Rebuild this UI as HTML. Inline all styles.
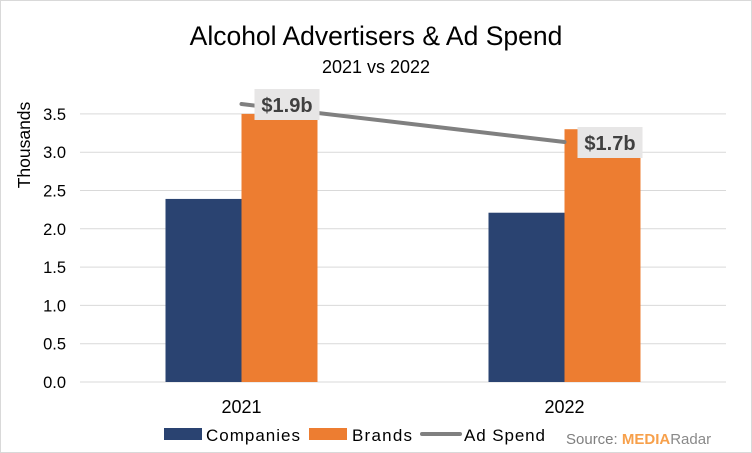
<!DOCTYPE html>
<html><head><meta charset="utf-8"><style>
body{margin:0;background:#fff}
svg{display:block;font-family:"Liberation Sans",Calibri,sans-serif}
</style></head><body>
<svg id="chart" width="752" height="453" viewBox="0 0 752 453">
<rect x="0.5" y="0.5" width="751" height="452" fill="#fff" stroke="#d9d9d9"/>
<text x="376" y="45" text-anchor="middle" font-size="26.5" fill="#000">Alcohol Advertisers &amp; Ad Spend</text>
<text x="376" y="73" text-anchor="middle" font-size="18" fill="#000">2021 vs 2022</text>
<text transform="translate(30,145) rotate(-90)" text-anchor="middle" font-size="17.5" fill="#000">Thousands</text>
<g id="grid"></g><g id="bars"></g><g id="line"></g><g id="xl"></g>
<g>
<rect x="164" y="428" width="38" height="12" fill="#2a4371"/>
<text x="206" y="441" font-size="17" textLength="94">Companies</text>
<rect x="309" y="428" width="38" height="12" fill="#ed7d31"/>
<text x="352" y="441" font-size="17" textLength="60">Brands</text>
<line x1="422" y1="434" x2="460" y2="434" stroke="#808080" stroke-width="4" stroke-linecap="round"/>
<text x="464" y="441" font-size="17" textLength="81">Ad Spend</text>
<text x="566" y="444" font-size="15" fill="#7f7f7f">Source: <tspan fill="#f7a04b" font-weight="bold">MEDIA</tspan><tspan fill="#8a8a8a">Radar</tspan></text>
</g>
</svg>
<script>
const categories=["2021","2022"];
const companies=[2.39,2.21];
const brands=[3.5,3.3];
const adSpend=[1.9,1.7];
const adLabels=["$1.9b","$1.7b"];
const yTicks=[0,0.5,1,1.5,2,2.5,3,3.5];
const NS="http://www.w3.org/2000/svg";
const y0=382,pxPer=76.6;
function yS(v){return y0-v*pxPer;}
function aS(v){return 104+(1.9-v)*190;}
const groupW=323,left=80;
function cx(i){return left+groupW*(i+0.5);}
function mk(t,a,p){const e=document.createElementNS(NS,t);for(const k in a)e.setAttribute(k,a[k]);p.appendChild(e);return e;}
const grid=document.getElementById('grid');
yTicks.forEach(v=>{
 const l=mk('line',{x1:left,x2:726,y1:yS(v),y2:yS(v),stroke:'#d9d9d9','stroke-width':1},grid);
 
 
 const t=mk('text',{x:66,y:yS(v)+6,'text-anchor':'end','font-size':16.5},grid);
 t.textContent=v.toFixed(1);
 
 
});
const bars=document.getElementById('bars'),xl=document.getElementById('xl');
categories.forEach((c,i)=>{
 const b1=mk('rect',{x:cx(i)-76,y:yS(companies[i]),width:76,height:y0-yS(companies[i]),fill:'#2a4371'},bars);
 
 
 const b2=mk('rect',{x:cx(i),y:yS(brands[i]),width:76,height:y0-yS(brands[i]),fill:'#ed7d31'},bars);
 
 
 const t=mk('text',{x:cx(i),y:413,'text-anchor':'middle','font-size':18},xl);
 t.textContent=c;
 
 
});
const lg=document.getElementById('line');
const pts=categories.map((c,i)=>cx(i)+','+aS(adSpend[i])).join(' ');
const pl=mk('polyline',{points:pts,fill:'none',stroke:'#808080','stroke-width':4,'stroke-linecap':'round'},lg);


categories.forEach((c,i)=>{
 const x=cx(i)+13,y=aS(adSpend[i])-15;
 const r=mk('rect',{x:x,y:y,width:65,height:31,fill:'#e7e6e6'},lg);
 
 
 const t=mk('text',{x:x+32.5,y:y+23,'text-anchor':'middle','font-size':20,'font-weight':'bold',fill:'#404040'},lg);
 t.textContent=adLabels[i];
 
 
});
</script>
</body></html>
